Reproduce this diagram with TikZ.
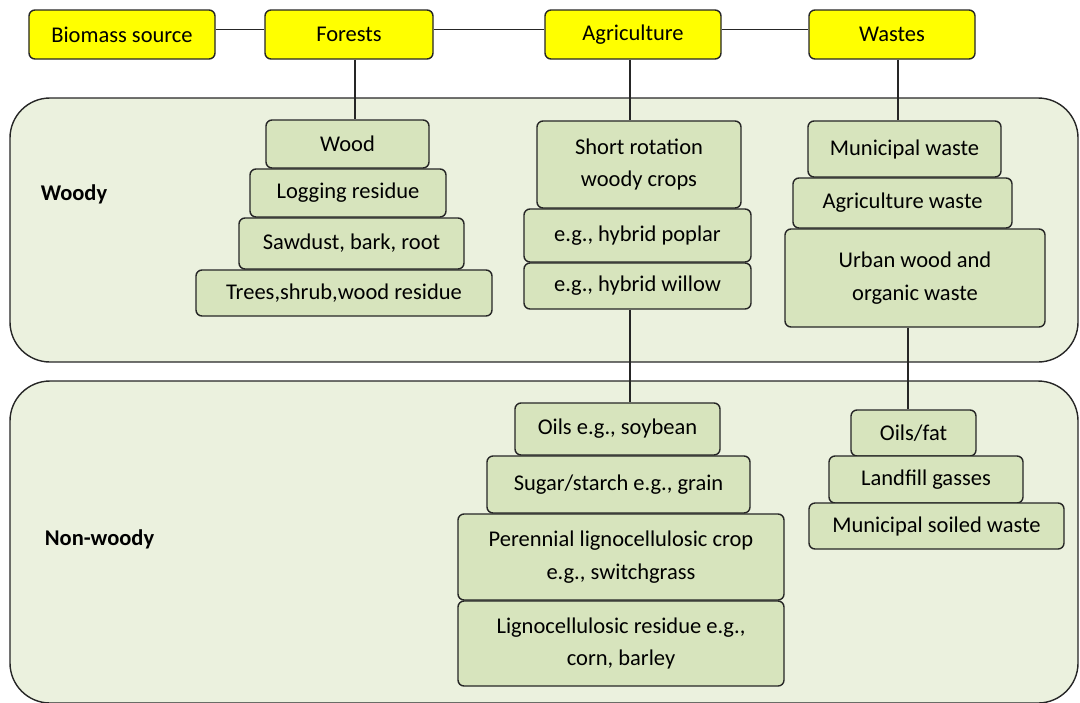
\documentclass[tikz,border=0pt]{standalone}
\usepackage{fontspec}
\setmainfont{Carlito}
\usepackage{xcolor}
\definecolor{srcYellow}{RGB}{255,255,0}
\definecolor{panelGreen}{RGB}{235,241,222}
\definecolor{itemGreen}{RGB}{215,228,189}
\usepackage{tikz}

\begin{document}
\begin{tikzpicture}[
    x=0.2mm,y=-0.2mm,
    panel/.style={draw=black!85,line width=0.8pt,fill=panelGreen,rounded corners=8mm},
    src/.style={draw=black!85,line width=0.8pt,fill=srcYellow,rounded corners=1.2mm,
                inner sep=0pt,minimum height=9.8mm,align=center,
                font=\fontsize{12.8pt}{18.7pt}\selectfont},
    item/.style={draw=black!85,line width=0.8pt,fill=itemGreen,rounded corners=1.2mm,
                 inner sep=0pt,align=center,font=\fontsize{12.8pt}{18.7pt}\selectfont},
    cat/.style={font=\fontsize{12.8pt}{18.7pt}\selectfont\bfseries},
    link/.style={draw=black!85,line width=0.8pt},
  ]
    \useasboundingbox (0,0) rectangle (1080,702);

    % Panels
    \draw[panel] (10,98) rectangle (1078,362);
    \draw[panel] (10,381) rectangle (1078,703);
    \node[cat] (woody)    at (74,194)   {Woody};
    \node[cat] (nonwoody) at (99.5,539) {Non-woody};

    % Sources
    \node[src,minimum width=37.2mm] (bio)     at (122,34.5) {Biomass source};
    \node[src,minimum width=33.6mm] (forests) at (349,34.5) {Forests};
    \node[src,minimum width=35.2mm] (agri)    at (633,34.5) {Agriculture};
    \node[src,minimum width=33.2mm] (wastes)  at (892,34.5) {Wastes};

    % Forests
    \node[item,minimum width=32.6mm,minimum height=9.6mm]  (wood)    at (347.5,144) {Wood};
    \node[item,minimum width=39.2mm,minimum height=9.6mm]  (logging) at (348,193)   {Logging residue};
    \node[item,minimum width=45mm,minimum height=10.2mm]   (sawdust) at (351.5,243.5) {Sawdust, bark, root};
    \node[item,minimum width=59.2mm,minimum height=9.2mm]  (trees)   at (344,293)   {Trees,shrub,wood residue};

    % Agriculture
    \node[item,minimum width=40.8mm,minimum height=17.4mm] (shortrot) at (639,164.5) {Short rotation\\woody crops};
    \node[item,minimum width=45.4mm,minimum height=10.6mm] (poplar)   at (637.5,235.5) {e.g., hybrid poplar};
    \node[item,minimum width=45.4mm,minimum height=9.2mm]  (willow)   at (637.5,286) {e.g., hybrid willow};
    \node[item,minimum width=41mm,minimum height=10.4mm]   (oils)     at (617.5,429) {Oils e.g., soybean};
    \node[item,minimum width=52.6mm,minimum height=11.4mm] (sugar)    at (618.5,484.5) {Sugar/starch e.g., grain};
    \node[item,minimum width=65.2mm,minimum height=17.2mm] (perennial) at (621,557) {Perennial lignocellulosic crop\\e.g., switchgrass};
    \node[item,minimum width=65.2mm,minimum height=17mm]   (ligno)    at (621,643.5) {Lignocellulosic residue e.g.,\\corn, barley};

    % Wastes
    \node[item,minimum width=38.6mm,minimum height=11.2mm] (munic)    at (904.5,149) {Municipal waste};
    \node[item,minimum width=43.8mm,minimum height=10mm]   (agrwaste) at (902.5,203) {Agriculture waste};
    \node[item,minimum width=52mm,minimum height=19.6mm]   (urban)    at (915,278)   {Urban wood and\\organic waste};
    \node[item,minimum width=25mm,minimum height=9.2mm]    (fat)      at (913.5,433) {Oils/fat};
    \node[item,minimum width=38.8mm,minimum height=9.4mm]  (landfill) at (926,479.5) {Landfill gasses};
    \node[item,minimum width=51mm,minimum height=9.2mm]    (soiled)   at (936.5,526) {Municipal soiled waste};

    % Links
    \draw[link] ([yshift=1mm]bio.east) -- ([yshift=1mm]forests.west);
    \draw[link] ([yshift=1mm]forests.east) -- ([yshift=1mm]agri.west);
    \draw[link] ([yshift=1mm]agri.east) -- ([yshift=1mm]wastes.west);
    \draw[link] ([xshift=1.2mm]forests.south) -- ([xshift=1.2mm]forests.south |- wood.north);
    \draw[link] ([xshift=-0.6mm]agri.south) -- ([xshift=-0.6mm]agri.south |- shortrot.north);
    \draw[link] ([xshift=1.2mm]wastes.south) -- ([xshift=1.2mm]wastes.south |- munic.north);
    \draw[link] ([xshift=-1.5mm]willow.south) -- ([xshift=-1.5mm]willow.south |- oils.north);
    \draw[link] ([xshift=-1.4mm]urban.south) -- ([xshift=-1.4mm]urban.south |- fat.north);

  \end{tikzpicture}
\end{document}
